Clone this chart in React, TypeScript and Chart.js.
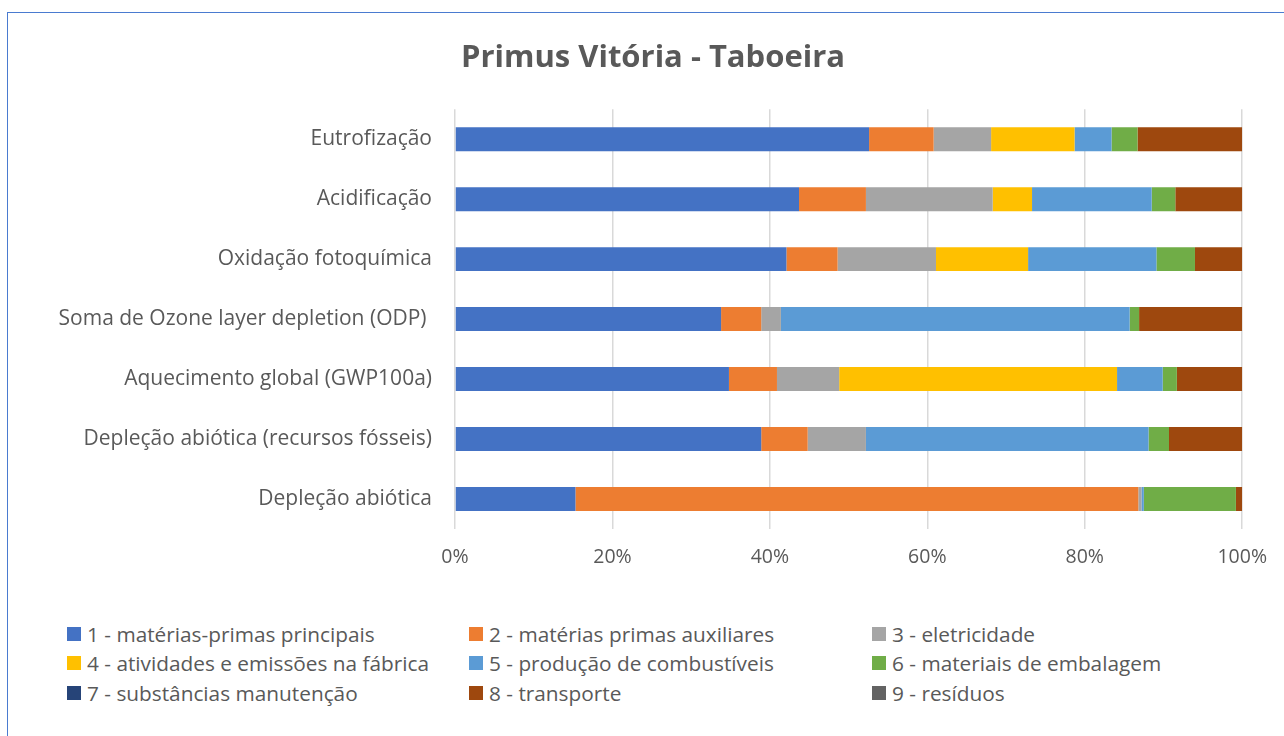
import React, { useEffect, useRef } from "react";
import { Chart, registerables } from "chart.js";

Chart.register(...registerables);

const TITLE = "Primus Vitória - Taboeira";

const categories = [
  "Eutrofização",
  "Acidificação",
  "Oxidação fotoquímica",
  "Soma de Ozone layer depletion (ODP) ",
  "Aquecimento global (GWP100a)",
  "Depleção abiótica (recursos fósseis)",
  "Depleção abiótica",
];

const seriesNames = [
  "1 - matérias-primas principais",
  "2 - matérias primas auxiliares",
  "3 - eletricidade",
  "4 - atividades e emissões na fábrica",
  "5 - produção de combustíveis",
  "6 - materiais de embalagem",
  "7 - substâncias manutenção",
  "8 - transporte",
  "9 - resíduos",
];

const seriesColors = [
  "#4472C4",
  "#ED7D31",
  "#A5A5A5",
  "#FFC000",
  "#5B9BD5",
  "#70AD47",
  "#264478",
  "#9E480E",
  "#636363",
];

const s1 = [52.6, 43.7, 42.1, 33.8, 34.8, 38.9, 15.3];
const s2 = [8.2, 8.5, 6.5, 5.1, 6.1, 5.9, 71.5];
const s3 = [7.3, 16.1, 12.5, 2.5, 7.9, 7.4, 0.4];
const s4 = [10.6, 5.0, 11.7, 0, 35.3, 0, 0];
const s5 = [4.7, 15.2, 16.3, 44.3, 5.8, 35.9, 0.3];
const s6 = [3.3, 3.0, 4.9, 1.2, 1.8, 2.6, 11.7];
const s7 = [0, 0, 0, 0, 0, 0, 0];
const s8 = [13.3, 8.5, 6.0, 13.1, 8.3, 9.3, 0.8];
const s9 = [0, 0, 0, 0, 0, 0, 0];

const seriesValues = [s1, s2, s3, s4, s5, s6, s7, s8, s9];

const xTicks = [0, 20, 40, 60, 80, 100];

const FONT = "'Open Sans', 'DejaVu Sans', sans-serif";
const TEXT = "#595959";

export default function App() {
  const ref = useRef<HTMLCanvasElement | null>(null);

  useEffect(() => {
    if (!ref.current) return;
    const chart = new Chart(ref.current, {
      type: "bar",
      data: {
        labels: categories,
        datasets: seriesValues.map((vals, i) => ({
          label: seriesNames[i],
          data: vals,
          backgroundColor: seriesColors[i],
          borderWidth: 0,
          barPercentage: 0.4,
          categoryPercentage: 1,
        })),
      },
      options: {
        indexAxis: "y",
        responsive: false,
        animation: false,
        devicePixelRatio: 1,
        layout: { padding: { left: 58, right: 36, top: 0, bottom: 0 } },
        plugins: {
          legend: { display: false },
          tooltip: { enabled: false },
          title: {
            display: true,
            text: TITLE,
            color: TEXT,
            font: { family: FONT, size: 31, weight: "bold" },
            padding: { top: 40, bottom: 32 },
          },
        },
        scales: {
          x: {
            stacked: true,
            min: 0,
            max: 100,
            afterBuildTicks: (scale: any) => {
              scale.ticks = xTicks.map((v) => ({ value: v }));
            },
            afterFit: (scale: any) => {
              scale.height = 71;
            },
            ticks: {
              color: TEXT,
              font: { family: FONT, size: 19.5 },
              padding: 17,
              callback: (v: any) => v + "%",
              maxRotation: 0,
            },
            grid: { color: "#D9D9D9", lineWidth: 1.5, drawTicks: false },
            border: { display: false },
          },
          y: {
            stacked: true,
            afterFit: (scale: any) => {
              scale.width = 397;
            },
            ticks: {
              color: TEXT,
              font: { family: FONT, size: 21 },
              padding: 23,
            },
            grid: { display: false, drawTicks: false },
            border: { display: false },
          },
        },
      },
    });
    return () => chart.destroy();
  }, []);

  const colLeft = [67, 469, 872];
  const rowTop = [634, 663, 693];

  return (
    <div
      style={{
        position: "fixed",
        left: 0,
        top: 0,
        width: 1284,
        height: 736,
        background: "#ffffff",
        overflow: "hidden",
        fontFamily: FONT,
      }}
    >
      <div
        style={{
          position: "absolute",
          left: 7,
          top: 12,
          width: 1300,
          height: 760,
          border: "1.5px solid #4A7BD0",
          boxSizing: "border-box",
        }}
      />
      <canvas
        ref={ref}
        width={1284}
        height={600}
        style={{ position: "absolute", left: 0, top: 0, width: 1284, height: 600 }}
      />
      {seriesNames.map((name, i) => {
        const col = i % 3;
        const row = Math.floor(i / 3);
        return (
          <div
            key={name}
            style={{
              position: "absolute",
              left: colLeft[col],
              top: rowTop[row] - 15,
              height: 30,
              display: "flex",
              alignItems: "center",
              whiteSpace: "nowrap",
              color: TEXT,
              fontSize: 20.8,
            }}
          >
            <span
              style={{
                display: "inline-block",
                width: 14,
                height: 14,
                background: seriesColors[i],
                marginRight: 6,
              }}
            />
            <span>{name}</span>
          </div>
        );
      })}
    </div>
  );
}
